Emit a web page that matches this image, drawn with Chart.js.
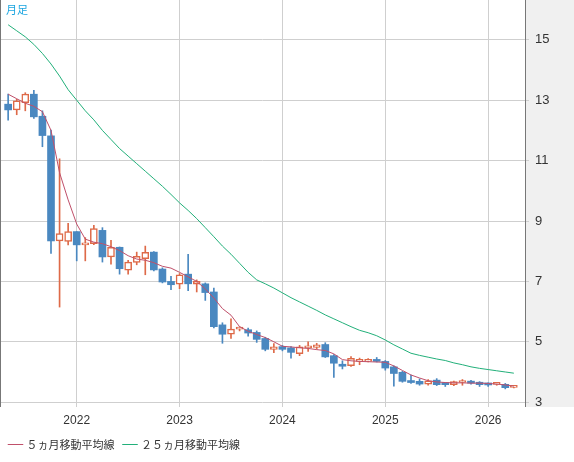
<!DOCTYPE html>
<html>
<head>
<meta charset="utf-8">
<script src="https://cdn.jsdelivr.net/npm/chart.js"></script>
<style>
  html, body { margin: 0; padding: 0; background: #fff; }
  #wrap { width: 574px; height: 462px; }
</style>
</head>
<body>
<div id="wrap"><canvas id="c" width="574" height="462"></canvas></div>
<script>
// month index: 0 = Jan 2022, first candle May 2021 (-8)
const START = -8;
const opens  = [12.87,12.68,12.92,13.2,12.47,11.82,8.34,8.32,8.65,8.21,8.25,8.69,7.81,8.13,7.37,7.63,7.75,7.97,7.41,7.0,6.91,7.24,6.91,6.92,6.65,
                5.56,5.25,5.42,5.4,5.31,5.11,4.75,4.84,4.80,
                4.61,4.80,4.81,4.91,4.54,4.24,4.21,4.35,4.35,4.41,4.35,4.17,3.99,3.71,3.69,3.60,3.73,3.60,3.58,3.65,3.69,3.66,3.60,3.59,3.59,3.49];
const closes = [12.68,12.98,13.2,12.45,11.83,8.34,8.58,8.65,8.21,8.26,8.75,7.81,8.13,7.42,7.64,7.83,7.96,7.38,6.98,6.89,7.22,6.92,7.0,6.63,5.5,
                5.25,5.42,5.44,5.29,5.08,4.75,4.83,4.75,4.65,
                4.83,4.86,4.90,4.50,4.29,4.19,4.45,4.40,4.41,4.35,4.13,3.95,3.69,3.65,3.60,3.71,3.58,3.58,3.68,3.68,3.63,3.58,3.57,3.62,3.48,3.50];
const highs  = [13.2,13.03,13.25,13.33,12.65,12.01,11.06,8.92,8.65,8.45,8.86,8.78,8.36,8.14,7.70,7.97,8.17,7.99,7.45,7.17,7.26,7.9,7.05,6.95,6.78,
                5.63,5.76,5.5,5.45,5.36,5.15,4.94,4.88,4.84,
                4.88,5.0,4.95,4.97,4.58,4.37,4.51,4.46,4.44,4.48,4.38,4.2,4.02,3.90,3.77,3.75,3.78,3.64,3.70,3.75,3.72,3.68,3.64,3.64,3.62,3.52];
const lows   = [12.34,12.52,12.65,12.40,11.46,7.93,6.15,8.21,7.68,7.68,8.22,7.64,7.57,7.24,7.24,7.55,7.22,7.35,6.95,6.73,6.76,6.69,6.65,6.37,5.46,
                4.95,5.11,5.36,5.19,4.98,4.70,4.64,4.70,4.46,
                4.54,4.68,4.76,4.48,3.82,4.10,4.18,4.24,4.33,4.33,4.06,3.53,3.66,3.62,3.56,3.56,3.55,3.52,3.55,3.56,3.60,3.52,3.52,3.56,3.44,3.47];
const ma5  = [13.2,13.05,12.9,12.8,12.62,12.0,10.6,9.7,8.9,8.4,8.3,8.25,8.15,8.02,7.85,7.74,7.7,7.62,7.5,7.44,7.3,7.15,7.0,6.75,6.45,
              6.1,5.88,5.5,5.35,5.24,5.14,5.0,4.85,4.83,4.8,4.78,4.74,4.71,4.6,4.41,4.37,4.35,4.34,4.33,4.32,4.2,4.05,3.9,3.8,3.71,
              3.67,3.65,3.64,3.64,3.63,3.63,3.62,3.6,3.57,3.53];
const ma25 = [15.5,15.3,15.1,14.85,14.55,14.2,13.8,13.35,13.0,12.65,12.35,12.0,11.7,11.4,11.15,10.9,10.65,10.4,10.15,9.88,9.6,9.35,9.08,8.78,8.48,
              8.17,7.9,7.6,7.3,7.05,6.92,6.78,6.62,6.46,6.32,6.18,6.04,5.89,5.76,5.63,5.5,5.38,5.3,5.2,5.06,4.9,4.76,4.62,4.55,4.49,
              4.43,4.38,4.3,4.24,4.17,4.12,4.08,4.04,4.0,3.96];
const yearTicks = [0, 12, 24, 36, 48];
const yearLabels = ['2022', '2023', '2024', '2025', '2026'];
const priceTicks = [3, 5, 7, 9, 11, 13, 15];

const UP = '#de6a48', DOWN = '#4a88c0';
const isUp = i => closes[i] >= opens[i];

const bodies = opens.map((o, i) => ({ x: START + i, y: [Math.min(o, closes[i]), Math.max(o, closes[i])] }));
const wicks  = opens.map((o, i) => ({ x: START + i, y: [lows[i], highs[i]] }));

const bgPlugin = {
  id: 'bg',
  beforeDraw(chart) {
    const c = chart.ctx, a = chart.chartArea;
    c.save();
    c.fillStyle = '#fff';
    c.fillRect(0, 0, chart.width, chart.height);
    c.fillStyle = '#f0f0f0';
    c.fillRect(a.right, 0, chart.width - a.right, a.bottom);
    c.restore();
  },
  afterDraw(chart) {
    const c = chart.ctx, a = chart.chartArea;
    c.save();
    c.strokeStyle = '#777';
    c.lineWidth = 1;
    c.beginPath();
    c.moveTo(a.left + 0.5, a.top); c.lineTo(a.left + 0.5, a.bottom);
    c.moveTo(a.right + 0.5, a.top); c.lineTo(a.right + 0.5, a.bottom);
    c.stroke();
    c.fillStyle = '#1ba5e0';
    c.font = '11px "Noto Sans CJK JP"';
    c.textBaseline = 'top';
    c.fillText('月足', 6, 4);
    c.restore();
  }
};

new Chart(document.getElementById('c'), {
  type: 'bar',
  data: {
    datasets: [
      { type: 'line', label: '５ヵ月移動平均線', data: ma5.map((v, i) => ({ x: START + i, y: v })),
        borderColor: '#c0506a', borderWidth: 1, pointRadius: 0, order: 0 },
      { type: 'line', label: '２５ヵ月移動平均線', data: ma25.map((v, i) => ({ x: START + i, y: v })),
        borderColor: '#22b07a', borderWidth: 1, pointRadius: 0, order: 0 },
      { label: 'wick', data: wicks, grouped: false, barThickness: 1, order: 2,
        backgroundColor: ctx => isUp(ctx.dataIndex) ? UP : DOWN },
      { label: 'body', data: bodies, grouped: false, barThickness: 7, minBarLength: 2, order: 1,
        backgroundColor: ctx => isUp(ctx.dataIndex) ? '#fff' : DOWN,
        borderColor: ctx => isUp(ctx.dataIndex) ? UP : DOWN,
        borderWidth: ctx => isUp(ctx.dataIndex) ? 1.5 : 0, borderSkipped: false }
    ]
  },
  options: {
    responsive: false,
    animation: false,
    layout: { padding: { left: 0, right: 0, top: 0, bottom: 2 } },
    plugins: {
      tooltip: { enabled: false },
      legend: {
        position: 'bottom', align: 'start',
        labels: {
          filter: item => item.text.indexOf('移動') >= 0,
          usePointStyle: true, pointStyle: 'line', boxWidth: 22, padding: 10,
          color: '#333', font: { size: 11, family: '"Noto Sans CJK JP"' }
        }
      }
    },
    scales: {
      x: {
        type: 'linear', min: START - 0.95, max: 52.3, offset: false,
        afterBuildTicks: s => { s.ticks = yearTicks.map(v => ({ value: v })); },
        afterFit: s => { s.height = 22; s.paddingLeft = 0; s.paddingRight = 0; },
        ticks: { callback: (v) => yearLabels[yearTicks.indexOf(v)], color: '#333', font: { size: 12 }, maxRotation: 0, padding: 6 },
        grid: { color: '#cfcfcf', drawTicks: false, offset: false },
        border: { display: false }
      },
      y: {
        position: 'right', min: 2.84, max: 16.32,
        afterBuildTicks: s => { s.ticks = priceTicks.map(v => ({ value: v })); },
        afterFit: s => { s.width = 49; s.paddingTop = 0; s.paddingBottom = 0; },
        ticks: { color: '#333', font: { size: 13 }, padding: 6 },
        grid: { color: '#cfcfcf', drawTicks: true, tickLength: 4 },
        border: { display: false }
      }
    }
  },
  plugins: [bgPlugin]
});
</script>
</body>
</html>
